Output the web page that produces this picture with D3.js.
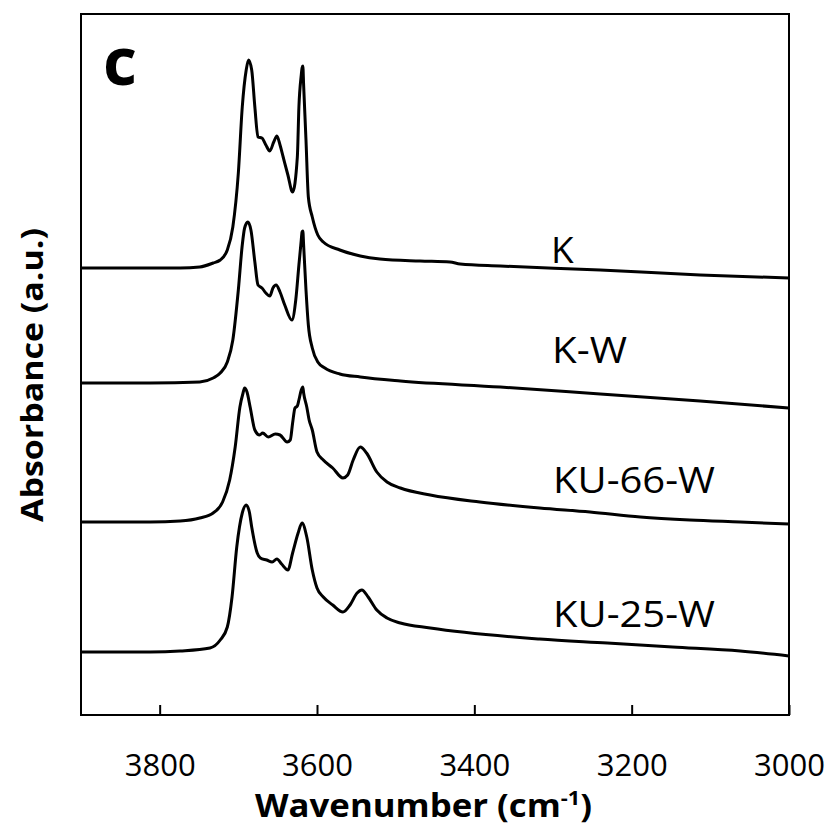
<!DOCTYPE html>
<html>
<head>
<meta charset="utf-8">
<script src="https://cdn.jsdelivr.net/npm/d3@7"></script>
<style>
  html, body { margin: 0; padding: 0; background: #fff; }
  svg { display: block; }
</style>
</head>
<body>
<svg id="chart" width="830" height="827"></svg>
<script>
// ---------- DATA (wavenumber in cm-1, absorbance in a.u., offset per spectrum) ----------
const seriesNames = ["K", "K-W", "KU-66-W", "KU-25-W"];

const wnK   = [3900,3812,3774,3749,3732,3723,3714,3707,3700,3695,3690,3687,3683,3679,3675,3670,3665,3660,3655,3651,3647,3643,3637,3631,3625,3623,3620,3619,3618,3617,3614,3611,3606,3599,3592,3571,3545,3520,3469,3431,3418,3367,3240,3113,3000];
const absK  = [4.47,4.47,4.47,4.48,4.52,4.55,4.65,4.88,5.42,6.08,6.45,6.55,6.45,6.08,5.78,5.77,5.70,5.64,5.73,5.79,5.70,5.58,5.40,5.23,5.58,6.08,6.40,6.47,6.49,6.30,5.75,5.18,4.98,4.80,4.73,4.65,4.59,4.56,4.54,4.53,4.51,4.49,4.45,4.40,4.37];

const wnKW  = [3900,3812,3749,3732,3723,3714,3707,3700,3695,3692,3688,3684,3679,3675,3670,3665,3660,3656,3652,3647,3641,3632,3627,3623,3620,3619,3618,3617,3614,3611,3606,3599,3590,3571,3545,3494,3367,3240,3113,3000];
const absKW = [3.32,3.32,3.33,3.37,3.42,3.53,3.75,4.25,4.70,4.87,4.93,4.85,4.53,4.30,4.27,4.22,4.19,4.27,4.30,4.23,4.10,3.95,4.15,4.50,4.75,4.83,4.84,4.70,4.25,3.90,3.67,3.53,3.47,3.41,3.38,3.34,3.28,3.21,3.14,3.07];

const wnKU66  = [3900,3812,3774,3749,3732,3720,3711,3704,3698,3694,3692,3689,3685,3679,3673,3669,3662,3653,3647,3638,3634,3631,3628,3625,3623,3620,3618,3617,3613,3610,3606,3600,3592,3580,3567,3561,3554,3545,3537,3524,3511,3494,3456,3393,3317,3253,3189,3126,3062,3000];
const absKU66 = [1.93,1.93,1.94,1.97,2.02,2.13,2.35,2.68,3.08,3.22,3.27,3.23,3.08,2.85,2.80,2.82,2.78,2.81,2.80,2.73,2.75,2.92,3.07,3.09,3.15,3.25,3.28,3.22,3.08,2.95,2.85,2.63,2.55,2.47,2.37,2.40,2.55,2.68,2.62,2.43,2.33,2.27,2.20,2.13,2.07,2.03,1.98,1.95,1.93,1.91];

const wnKU25  = [3900,3812,3774,3736,3723,3714,3708,3702,3695,3690,3686,3683,3676,3672,3664,3657,3651,3645,3637,3631,3624,3619,3613,3606,3600,3592,3580,3567,3558,3549,3543,3535,3524,3511,3494,3456,3317,3231,3148,3062,3000];
const absKU25 = [0.63,0.63,0.64,0.67,0.75,0.88,1.18,1.68,2.02,2.10,2.03,1.88,1.62,1.57,1.55,1.53,1.56,1.51,1.45,1.62,1.82,1.92,1.78,1.45,1.27,1.18,1.10,1.03,1.10,1.22,1.25,1.18,1.05,0.97,0.92,0.87,0.76,0.72,0.68,0.64,0.59];

const xTicks = [3800, 3600, 3400, 3200, 3000];
const xDomain = [3900, 3000];
const yDomain = [0, 7.01];

const xTitle = "Wavenumber (cm";
const xTitleSup = "-1";
const yTitle = "Absorbance (a.u.)";
const panelLetter = "c";

// ---------- LAYOUT ----------
const L = 81, R = 789, T = 14, B = 715;
const svg = d3.select("#chart");

const x = d3.scaleLinear().domain(xDomain).range([L, R]);
const y = d3.scaleLinear().domain(yDomain).range([B, T]);

const series = [
  { name: seriesNames[0], wn: wnK,    ab: absK,    lx: 551, ly: 263, w: 23 },
  { name: seriesNames[1], wn: wnKW,   ab: absKW,   lx: 552, ly: 363, w: 75 },
  { name: seriesNames[2], wn: wnKU66, ab: absKU66, lx: 553, ly: 493, w: 162 },
  { name: seriesNames[3], wn: wnKU25, ab: absKU25, lx: 553, ly: 627, w: 162 }
];

const line = d3.line()
  .x(d => x(d[0]))
  .y(d => y(d[1]))
  .curve(d3.curveMonotoneX);

svg.append("defs").append("clipPath").attr("id", "clip")
  .append("rect").attr("x", L).attr("y", T).attr("width", R - L).attr("height", B - T);

const g = svg.append("g").attr("clip-path", "url(#clip)");
series.forEach(s => {
  const pts = s.wn.map((w, i) => [w, s.ab[i]]).sort((a, b) => b[0] - a[0]);
  g.append("path")
    .attr("d", line(pts))
    .attr("fill", "none")
    .attr("stroke", "#000")
    .attr("stroke-width", 3)
    .attr("stroke-linejoin", "round")
    .attr("stroke-linecap", "round");
});

// frame
svg.append("rect")
  .attr("x", L).attr("y", T).attr("width", R - L).attr("height", B - T)
  .attr("fill", "none").attr("stroke", "#000").attr("stroke-width", 2);

// x axis ticks (inward) and labels
const xAxis = d3.axisBottom(x).tickValues(xTicks).tickSizeInner(-10).tickSizeOuter(0).tickPadding(0).tickFormat(d3.format("d"));
const ax = svg.append("g").attr("transform", `translate(0,${B})`).call(xAxis);
ax.select(".domain").remove();
ax.selectAll(".tick line").attr("stroke", "#000").attr("stroke-width", 2);
ax.selectAll(".tick text")
  .attr("y", 61).attr("dy", 0)
  .attr("font-family", "'Open Sans', sans-serif")
  .attr("font-size", 31)
  .attr("fill", "#000");

// series labels
series.forEach(s => {
  const t = svg.append("text")
    .attr("x", s.lx).attr("y", s.ly)
    .attr("font-family", "'Open Sans', sans-serif")
    .attr("font-size", 37)
    .attr("fill", "#000")
    .text(s.name);
  if (s.name.length > 1) t.attr("textLength", s.w).attr("lengthAdjust", "spacingAndGlyphs");
});

// x title
const xt = svg.append("text")
  .attr("x", 423.5).attr("y", 817)
  .attr("text-anchor", "middle")
  .attr("font-family", "'Open Sans', sans-serif")
  .attr("font-weight", "bold")
  .attr("font-size", 32)
  .attr("fill", "#000");
xt.append("tspan").text(xTitle);
xt.append("tspan").attr("font-size", 20).attr("dy", -12).text(xTitleSup);
xt.append("tspan").attr("dy", 12).text(")");
xt.attr("textLength", 337).attr("lengthAdjust", "spacingAndGlyphs");

// y title
svg.append("text")
  .attr("transform", "translate(43,375) rotate(-90)")
  .attr("text-anchor", "middle")
  .attr("font-family", "'Open Sans', sans-serif")
  .attr("font-weight", "bold")
  .attr("font-size", 31)
  .attr("fill", "#000")
  .attr("textLength", 294).attr("lengthAdjust", "spacingAndGlyphs")
  .text(yTitle);

// panel letter
svg.append("text")
  .attr("x", 103).attr("y", 85)
  .attr("font-family", "'Open Sans', sans-serif")
  .attr("font-weight", "bold")
  .attr("font-size", 66)
  .attr("fill", "#000")
  .text(panelLetter);
</script>
</body>
</html>
